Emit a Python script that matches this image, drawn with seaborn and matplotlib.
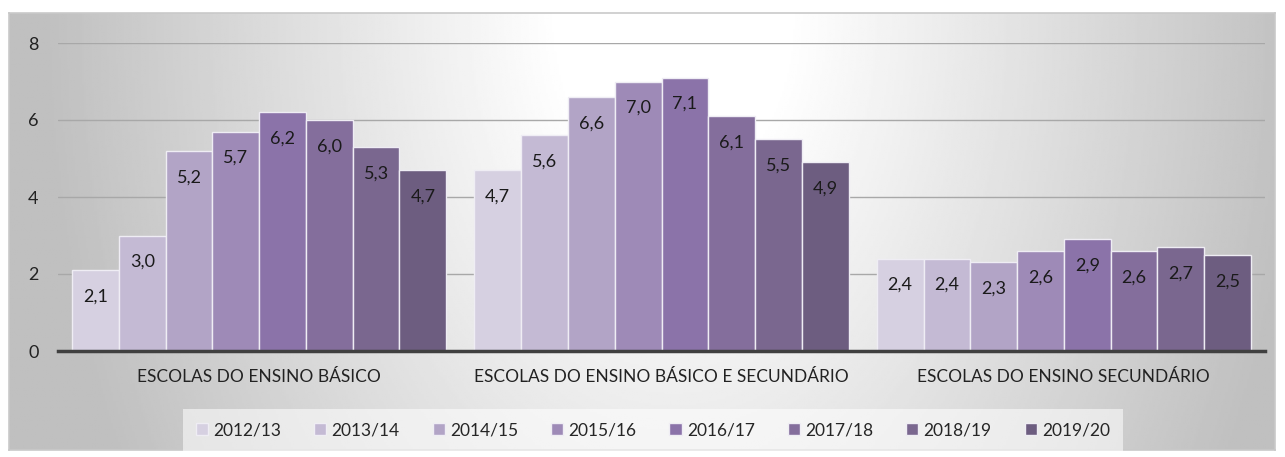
import numpy as np
import pandas as pd
import matplotlib
matplotlib.use("Agg")
import matplotlib.pyplot as plt
import seaborn as sns

# --- data ---
categories = ["ESCOLAS DO ENSINO BÁSICO",
              "ESCOLAS DO ENSINO BÁSICO E SECUNDÁRIO",
              "ESCOLAS DO ENSINO SECUNDÁRIO"]
years = ["2012/13", "2013/14", "2014/15", "2015/16",
         "2016/17", "2017/18", "2018/19", "2019/20"]
basico = [2.1, 3.0, 5.2, 5.7, 6.2, 6.0, 5.3, 4.7]
basico_sec = [4.7, 5.6, 6.6, 7.0, 7.1, 6.1, 5.5, 4.9]
secundario = [2.4, 2.4, 2.3, 2.6, 2.9, 2.6, 2.7, 2.5]
yticks = [0, 2, 4, 6, 8]

colors = ["#d6d0e1", "#c4bad4", "#b2a4c6", "#9e8ab7",
          "#8b73a9", "#846e9c", "#7a678f", "#6d5d80"]

rows = []
for cat, vals in zip(categories, [basico, basico_sec, secundario]):
    for yr, v in zip(years, vals):
        rows.append({"escola": cat, "ano": yr, "valor": v})
df = pd.DataFrame(rows)

sns.set_style("white")
plt.rcParams["font.family"] = ["Lato", "DejaVu Sans"]

fig = plt.figure(figsize=(12.85, 4.57), dpi=100)

# --- gradient background (white around the top middle, grey at the sides) ---
W, H = 1285, 457
bg = fig.add_axes([9 / W, 1 - 450 / H, 1266 / W, 437 / H], zorder=-2)
gx, gy = np.meshgrid(np.linspace(-1, 1, 600), np.linspace(0, 1, 200))
r = np.sqrt((gx - 0.05) ** 2 + (gy / 2.2) ** 2)
shade = 1.0 - 0.25 * np.clip((r - 0.18) / 0.82, 0, 1)
bg.imshow(shade, cmap="gray", vmin=0, vmax=1, aspect="auto",
          extent=[0, 1, 0, 1], origin="upper")
bg.set_xticks([])
bg.set_yticks([])
for s in bg.spines.values():
    s.set_color("#c9c9c9")
    s.set_linewidth(1.2)

# --- bars ---
ax = fig.add_axes([58 / W, 1 - 351 / H, 1207 / W, 308 / H])
ax.set_facecolor("none")
sns.barplot(data=df, x="escola", y="valor", hue="ano", order=categories,
            hue_order=years, palette=colors, width=0.93, ax=ax,
            edgecolor="#efedf4", linewidth=1.0, saturation=1, zorder=3)

for cont in ax.containers:
    labels = [f"{b.get_height():.1f}".replace(".", ",") for b in cont]
    texts = ax.bar_label(cont, labels=labels, padding=-19, fontsize=13,
                         color="#1a1a1a")
    for t in texts:
        t.set_va("center")

ax.set_ylim(0, 8)
ax.set_yticks(yticks)
ax.set_yticklabels([str(t) for t in yticks], fontsize=13, color="#222222")
ax.tick_params(axis="y", length=0, pad=14)
ax.tick_params(axis="x", length=0, pad=13, labelsize=12.5, labelcolor="#222222")
ax.grid(axis="y", color="#a8a8a8", linewidth=1.0, zorder=0)
ax.set_axisbelow(True)
ax.set_xlabel("")
ax.set_ylabel("")
for s in ["top", "right", "left"]:
    ax.spines[s].set_visible(False)
ax.spines["bottom"].set_color("#404040")
ax.spines["bottom"].set_linewidth(2.5)
ax.spines["bottom"].set_zorder(4)

# --- legend ---
handles, lbls = ax.get_legend_handles_labels()
ax.get_legend().remove()
leg = fig.legend(handles, lbls, loc="center", ncol=8,
                 bbox_to_anchor=(653 / W, 1 - 430 / H), frameon=True,
                 fontsize=12.5, handlelength=0.7, handleheight=0.7,
                 handletextpad=0.3, columnspacing=1.9, borderpad=0.75)
leg.get_frame().set_facecolor("#ffffff")
leg.get_frame().set_alpha(0.55)
leg.get_frame().set_edgecolor("none")
leg.get_frame().set_boxstyle("square", pad=0)

fig.savefig("out.png", dpi=100)
